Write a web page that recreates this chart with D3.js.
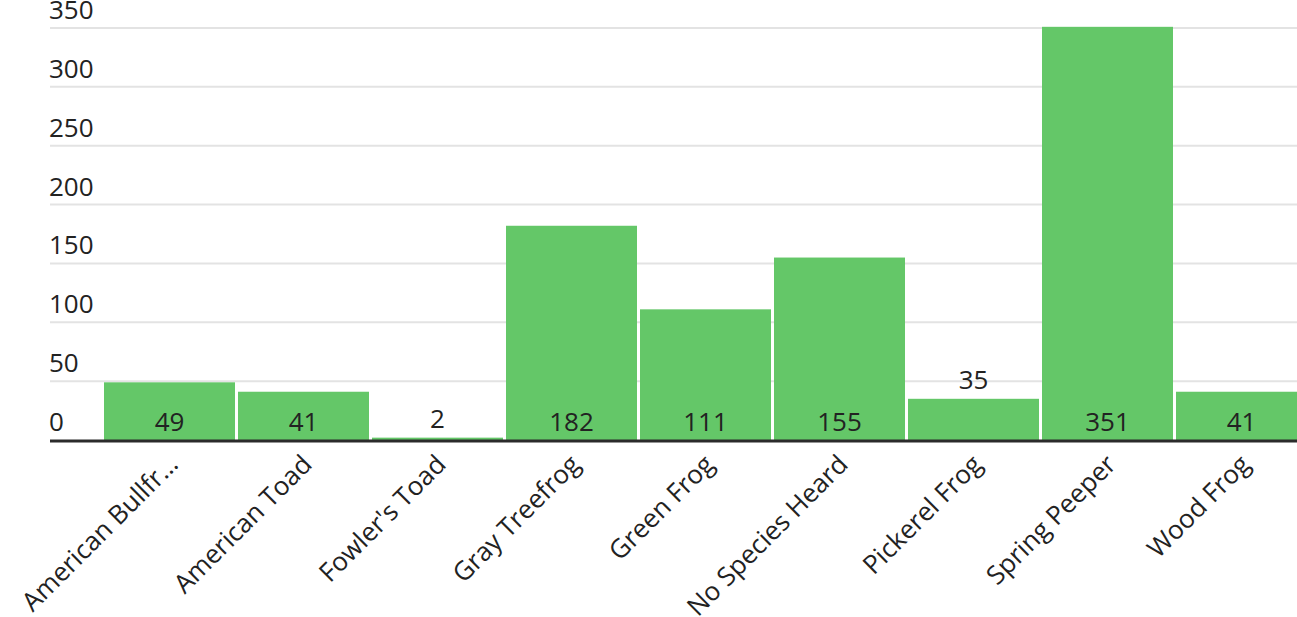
<!DOCTYPE html>
<html><head><meta charset="utf-8">
<script src="https://cdn.jsdelivr.net/npm/d3@7"></script>
<style>
html,body{margin:0;padding:0;background:#fff;overflow:hidden}
text{font-family:"Open Sans",sans-serif;fill:#222}
</style></head><body>
<svg id="c" width="1297" height="617"></svg>
<script>
const categories = ["American Bullfr\u2026","American Toad","Fowler's Toad","Gray Treefrog","Green Frog","No Species Heard","Pickerel Frog","Spring Peeper","Wood Frog"];
const values = [49,41,2,182,111,155,35,351,41];
const yTicks = [0,50,100,150,200,250,300,350];

const svg = d3.select("#c");
const fs = 26;
const x = d3.scaleBand().domain(categories).range([104, 104 + 134*9 - 3]).paddingInner(3/134).paddingOuter(0);
const y = d3.scaleLinear().domain([0,350]).range([440,28]);

svg.append("g").selectAll("line").data(yTicks.filter(d=>d>0)).join("line")
  .attr("x1",50).attr("x2",1297).attr("y1",d=>y(d)).attr("y2",d=>y(d))
  .attr("stroke","#e3e3e3").attr("stroke-width",2);

svg.append("g").selectAll("text").data(yTicks).join("text")
  .attr("x",49).attr("y",d=>y(d)-9).attr("font-size",fs).text(d=>d);

svg.append("g").selectAll("rect").data(values).join("rect")
  .attr("x",(d,i)=>x(categories[i])).attr("width",x.bandwidth())
  .attr("y",d=>y(d)).attr("height",d=>y(0)-y(d)).attr("fill","#64c768");

svg.append("line").attr("x1",50).attr("x2",1297).attr("y1",y(0)+1).attr("y2",y(0)+1)
  .attr("stroke","#2b2b2b").attr("stroke-width",3);

svg.append("g").selectAll("text").data(values).join("text")
  .attr("x",(d,i)=>x(categories[i])+x.bandwidth()/2)
  .attr("y",d=> (y(0)-y(d)) > 45 ? y(0)-9 : y(d)-10)
  .attr("text-anchor","middle").attr("font-size",fs).text(d=>d);

svg.append("g").selectAll("text").data(categories).join("text")
  .attr("transform",d=>`translate(${x(d)+x.bandwidth()/2+10},${466}) rotate(-45)`)
  .attr("text-anchor","end").attr("font-size",fs).text(d=>d);
</script>
</body></html>
